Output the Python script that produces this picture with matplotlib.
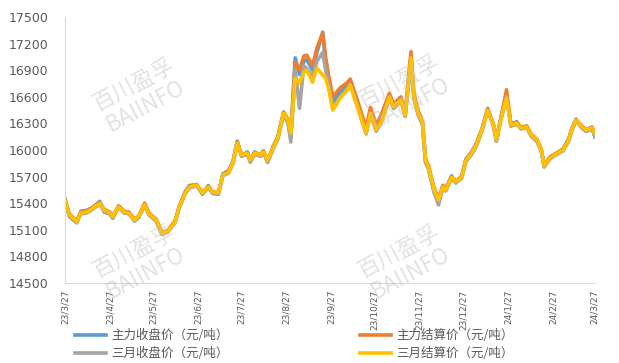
import matplotlib
matplotlib.use('Agg')
import matplotlib.pyplot as plt
import matplotlib.dates as mdates
import matplotlib.ticker as mticker
import pandas as pd

plt.rcParams['font.family'] = ['Noto Sans CJK SC', 'DejaVu Sans']

dates = [
    '2023-03-27', '2023-03-30', '2023-04-04', '2023-04-07', '2023-04-11', '2023-04-15', '2023-04-20', '2023-04-23', '2023-04-27', '2023-04-29',
    '2023-05-03', '2023-05-07', '2023-05-10', '2023-05-14', '2023-05-17', '2023-05-21', '2023-05-24', '2023-05-29', '2023-06-02', '2023-06-06',
    '2023-06-11', '2023-06-14', '2023-06-18', '2023-06-21', '2023-06-26', '2023-06-30', '2023-07-04', '2023-07-07', '2023-07-11', '2023-07-14',
    '2023-07-18', '2023-07-21', '2023-07-24', '2023-07-27', '2023-07-31', '2023-08-02', '2023-08-05', '2023-08-09', '2023-08-11', '2023-08-14',
    '2023-08-18', '2023-08-21', '2023-08-25', '2023-08-28', '2023-08-30', '2023-09-02', '2023-09-05', '2023-09-08', '2023-09-10', '2023-09-14',
    '2023-09-17', '2023-09-21', '2023-09-23', '2023-09-25', '2023-09-28', '2023-10-03', '2023-10-08', '2023-10-10', '2023-10-15', '2023-10-21',
    '2023-10-24', '2023-10-28', '2023-11-01', '2023-11-06', '2023-11-09', '2023-11-14', '2023-11-17', '2023-11-21', '2023-11-23', '2023-11-26',
    '2023-11-29', '2023-12-01', '2023-12-03', '2023-12-07', '2023-12-10', '2023-12-13', '2023-12-15', '2023-12-19', '2023-12-22', '2023-12-26',
    '2023-12-29', '2024-01-02', '2024-01-05', '2024-01-09', '2024-01-13', '2024-01-17', '2024-01-19', '2024-01-22', '2024-01-26', '2024-01-29',
    '2024-02-02', '2024-02-05', '2024-02-09', '2024-02-12', '2024-02-16', '2024-02-19', '2024-02-21', '2024-02-25', '2024-03-01', '2024-03-05',
    '2024-03-09', '2024-03-11', '2024-03-14', '2024-03-18', '2024-03-21', '2024-03-25', '2024-03-27',
]

# 主力收盘价
main_close = [
    15450, 15250, 15180, 15310, 15320, 15350, 15420, 15300, 15280, 15230,
    15370, 15290, 15300, 15200, 15240, 15390, 15270, 15200, 15050, 15090,
    15200, 15370, 15530, 15600, 15610, 15500, 15600, 15510, 15500, 15730,
    15770, 15870, 16100, 15930, 15980, 15870, 15980, 15930, 15990, 15870,
    16050, 16150, 16430, 16330, 16150, 17040, 16850, 17000, 17020, 16900,
    17100, 17330, 17000, 16800, 16540, 16650, 16720, 16770, 16520, 16210,
    16440, 16250, 16380, 16620, 16470, 16590, 16380, 17070, 16580, 16400,
    16280, 15860, 15790, 15520, 15400, 15600, 15540, 15710, 15630, 15710,
    15900, 15980, 16070, 16240, 16470, 16270, 16100, 16360, 16620, 16270,
    16320, 16240, 16270, 16160, 16100, 15990, 15810, 15920, 15970, 16010,
    16130, 16240, 16350, 16250, 16210, 16240, 16150,
]
# 主力结算价
main_settle = [
    15440, 15280, 15200, 15300, 15310, 15350, 15410, 15330, 15300, 15250,
    15370, 15310, 15300, 15220, 15260, 15400, 15290, 15220, 15070, 15090,
    15200, 15360, 15520, 15590, 15610, 15520, 15590, 15530, 15520, 15720,
    15760, 15860, 16090, 15950, 15970, 15890, 15970, 15950, 15990, 15890,
    16040, 16140, 16420, 16350, 16200, 16990, 16900, 17060, 17070, 16950,
    17150, 17320, 17050, 16850, 16600, 16700, 16760, 16800, 16560, 16250,
    16480, 16280, 16420, 16640, 16520, 16600, 16420, 17110, 16640, 16440,
    16320, 15900, 15830, 15570, 15450, 15600, 15570, 15700, 15650, 15700,
    15890, 15970, 16060, 16230, 16460, 16290, 16130, 16350, 16680, 16300,
    16310, 16260, 16270, 16180, 16120, 16010, 15830, 15920, 15970, 16010,
    16120, 16230, 16340, 16270, 16230, 16260, 16200,
]
# 三月收盘价
mar_close = [
    15420, 15260, 15180, 15280, 15290, 15330, 15390, 15310, 15280, 15235,
    15350, 15290, 15280, 15200, 15245, 15370, 15270, 15200, 15050, 15075,
    15180, 15350, 15505, 15575, 15595, 15505, 15575, 15515, 15505, 15710,
    15740, 15845, 16060, 15930, 15950, 15860, 15950, 15930, 15965, 15860,
    16020, 16120, 16400, 16300, 16090, 16900, 16470, 16950, 16920, 16820,
    17000, 17100, 16900, 16750, 16480, 16600, 16690, 16740, 16490, 16180,
    16400, 16210, 16330, 16590, 16470, 16550, 16380, 17000, 16580, 16400,
    16290, 15870, 15800, 15530, 15380, 15570, 15540, 15680, 15630, 15680,
    15870, 15950, 16040, 16210, 16440, 16270, 16100, 16330, 16600, 16270,
    16290, 16240, 16250, 16160, 16100, 15990, 15810, 15900, 15955, 15990,
    16100, 16210, 16330, 16250, 16215, 16240, 16160,
]
# 三月结算价
mar_settle = [
    15430, 15270, 15190, 15290, 15300, 15340, 15400, 15320, 15290, 15245,
    15360, 15300, 15290, 15210, 15255, 15380, 15280, 15210, 15060, 15085,
    15190, 15360, 15515, 15585, 15605, 15515, 15585, 15525, 15515, 15720,
    15750, 15855, 16080, 15945, 15965, 15885, 15965, 15945, 15980, 15885,
    16035, 16135, 16415, 16340, 16190, 16810, 16755, 16880, 16900, 16765,
    16925, 16845, 16810, 16700, 16450, 16585, 16675, 16735, 16485, 16190,
    16415, 16225, 16340, 16600, 16485, 16565, 16395, 17040, 16600, 16415,
    16305, 15885, 15810, 15550, 15435, 15585, 15550, 15695, 15640, 15695,
    15885, 15965, 16055, 16225, 16450, 16280, 16115, 16340, 16585, 16280,
    16305, 16250, 16260, 16170, 16115, 16000, 15820, 15910, 15965, 16000,
    16115, 16225, 16340, 16260, 16225, 16250, 16190,
]

labels = ['主力收盘价（元/吨）', '主力结算价（元/吨）', '三月收盘价（元/吨）', '三月结算价（元/吨）']
colors = ['#5B9BD5', '#ED7D31', '#A5A5A5', '#FFC000']

x = pd.to_datetime(dates)

fig = plt.figure(figsize=(6.19, 3.63), dpi=100)
ax = fig.add_axes([0.105, 0.2204, 0.856, 0.7326])

lines = []
for vals, lab, col in zip([main_close, main_settle, mar_close, mar_settle], labels, colors):
    ln, = ax.plot(x, vals, color=col, linewidth=2.6, label=lab, solid_joinstyle='round')
    lines.append(ln)

ax.set_ylim(14500, 17500)
ax.set_yticks(range(14500, 17501, 300))
ax.set_xlim(pd.Timestamp('2023-03-27'), pd.Timestamp('2024-03-27'))
ax.xaxis.set_major_locator(mdates.MonthLocator(bymonthday=27))
ax.xaxis.set_major_formatter(mticker.FuncFormatter(
    lambda v, pos: (lambda d: f"{d.year % 100}/{d.month}/{d.day}")(mdates.num2date(v))))

for s in ['top', 'right']:
    ax.spines[s].set_visible(False)
ax.spines['left'].set_color('#D9D9D9')
ax.spines['bottom'].set_color('#D9D9D9')
ax.tick_params(axis='y', length=0, pad=12, labelsize=9, labelcolor='#595959')
ax.tick_params(axis='x', length=0, pad=5, labelsize=6.5, labelcolor='#595959', rotation=90)
for t in ax.get_yticklabels():
    t.set_family('DejaVu Sans')
for t in ax.get_xticklabels():
    t.set_family('DejaVu Sans')

# watermark
for cx, cy in [(140, 95), (405, 92), (670, 89), (140, 262), (405, 262), (670, 262)]:
    fig.text(cx / 619, 1 - cy / 363, '百川盈孚\nBAIINFO', rotation=28, ha='center', va='center',
             fontsize=16, color='#BFBFBF', alpha=0.45, linespacing=1.1,
             multialignment='center', zorder=10)

fig.legend([lines[0], lines[2], lines[1], lines[3]],
           [labels[0], labels[2], labels[1], labels[3]],
           loc='upper left', bbox_to_anchor=(75 / 619, 1 - 329 / 363), ncol=2,
           frameon=False, fontsize=9, handlelength=2.5, handletextpad=0.4,
           columnspacing=10.5, labelspacing=0.4, borderpad=0, borderaxespad=0,
           labelcolor='#595959')

fig.savefig('out.png', dpi=100)
